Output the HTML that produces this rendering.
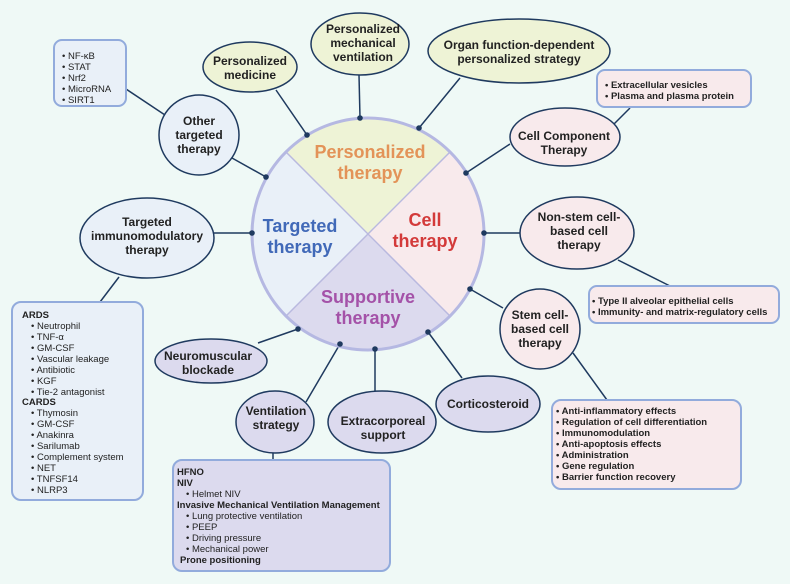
<!DOCTYPE html>
<html><head><meta charset="utf-8"><style>
html,body{margin:0;padding:0;background:#eff9f6;}
svg{display:block;font-family:"Liberation Sans",Arial,sans-serif;}
.l{font-size:12px;font-weight:bold;fill:#222;text-anchor:middle;}
.s{font-size:9.5px;fill:#222;}
.sb{font-size:9.5px;fill:#222;font-weight:bold;}
.ln{stroke:#1f3a5f;stroke-width:1.5;fill:none;}
.d{fill:#1f3a5f;}
</style></head><body>
<svg width="790" height="584" viewBox="0 0 790 584">
<rect width="790" height="584" fill="#eff9f6"/>
<!-- connectors -->
<g class="ln">
<line x1="232" y1="158" x2="266" y2="177"/>
<line x1="126" y1="89" x2="165" y2="115"/>
<line x1="276" y1="90" x2="307" y2="135"/>
<line x1="359" y1="75" x2="360" y2="118"/>
<line x1="460" y1="78" x2="419" y2="128"/>
<line x1="510" y1="144" x2="466" y2="173"/>
<line x1="630" y1="108" x2="614" y2="124"/>
<line x1="520" y1="233" x2="484" y2="233"/>
<line x1="618" y1="260" x2="670" y2="286"/>
<line x1="503" y1="308" x2="470" y2="289"/>
<line x1="573" y1="353" x2="607" y2="400"/>
<line x1="462" y1="378" x2="428" y2="332"/>
<line x1="375" y1="391" x2="375" y2="349"/>
<line x1="306" y1="402" x2="340" y2="344"/>
<line x1="273" y1="452" x2="273" y2="461"/>
<line x1="258" y1="343" x2="298" y2="329"/>
<line x1="214" y1="233" x2="252" y2="233"/>
<line x1="119" y1="277" x2="100" y2="302"/>
</g>
<!-- central pie -->
<path d="M368,234 L286,152 A116,116 0 0 1 450,152 Z" fill="#eef3d6"/>
<path d="M368,234 L450,152 A116,116 0 0 1 450,316 Z" fill="#f8eaec"/>
<path d="M368,234 L450,316 A116,116 0 0 1 286,316 Z" fill="#dcdaee"/>
<path d="M368,234 L286,316 A116,116 0 0 1 286,152 Z" fill="#e9f0f8"/>
<g stroke="#b9b9df" stroke-width="1.5">
<line x1="286" y1="152" x2="450" y2="316"/><line x1="450" y1="152" x2="286" y2="316"/></g>
<circle cx="368" cy="234" r="116" fill="none" stroke="#b5b8e2" stroke-width="3"/>
<g font-weight="bold" font-size="18" text-anchor="middle">
<text x="370" y="158" fill="#e39358">Personalized</text><text x="370" y="179" fill="#e39358">therapy</text>
<text x="300" y="232" fill="#4169b8">Targeted</text><text x="300" y="253" fill="#4169b8">therapy</text>
<text x="425" y="226" fill="#d33a3a">Cell</text><text x="425" y="247" fill="#d33a3a">therapy</text>
<text x="368" y="303" fill="#a452a8">Supportive</text><text x="368" y="324" fill="#a452a8">therapy</text>
</g>
<!-- dots -->
<g class="d">
<circle cx="266" cy="177" r="2.8"/><circle cx="307" cy="135" r="2.8"/><circle cx="360" cy="118" r="2.8"/>
<circle cx="419" cy="128" r="2.8"/><circle cx="466" cy="173" r="2.8"/><circle cx="484" cy="233" r="2.8"/>
<circle cx="470" cy="289" r="2.8"/><circle cx="428" cy="332" r="2.8"/><circle cx="375" cy="349" r="2.8"/>
<circle cx="340" cy="344" r="2.8"/><circle cx="298" cy="329" r="2.8"/><circle cx="252" cy="233" r="2.8"/>
</g>
<!-- nodes -->
<g stroke="#1f3a5f" stroke-width="1.5">
<ellipse cx="199" cy="135" rx="40" ry="40" fill="#e9f0f8"/>
<ellipse cx="250" cy="67" rx="47" ry="25" fill="#eef3d6"/>
<ellipse cx="360" cy="44" rx="49" ry="31" fill="#eef3d6"/>
<ellipse cx="519" cy="51" rx="91" ry="32" fill="#eef3d6"/>
<ellipse cx="565" cy="137" rx="55" ry="29" fill="#f8eaec"/>
<ellipse cx="577" cy="233" rx="57" ry="36" fill="#f8eaec"/>
<ellipse cx="540" cy="329" rx="40" ry="40" fill="#f8eaec"/>
<ellipse cx="488" cy="404" rx="52" ry="28" fill="#dcdaee"/>
<ellipse cx="382" cy="422" rx="54" ry="31" fill="#dcdaee"/>
<ellipse cx="275" cy="422" rx="39" ry="31" fill="#dcdaee"/>
<ellipse cx="211" cy="361" rx="56" ry="22" fill="#dcdaee"/>
<ellipse cx="147" cy="238" rx="67" ry="40" fill="#e9f0f8"/>
</g>
<g class="l">
<text x="199" y="125">Other</text><text x="199" y="139">targeted</text><text x="199" y="153">therapy</text>
<text x="250" y="65">Personalized</text><text x="250" y="79">medicine</text>
<text x="363" y="33">Personalized</text><text x="363" y="47">mechanical</text><text x="363" y="61">ventilation</text>
<text x="519" y="49">Organ function-dependent</text><text x="519" y="63">personalized strategy</text>
<text x="564" y="140">Cell Component</text><text x="564" y="154">Therapy</text>
<text x="579" y="221">Non-stem cell-</text><text x="579" y="235">based cell</text><text x="579" y="249">therapy</text>
<text x="540" y="319">Stem cell-</text><text x="540" y="333">based cell</text><text x="540" y="347">therapy</text>
<text x="488" y="408">Corticosteroid</text>
<text x="383" y="425">Extracorporeal</text><text x="383" y="439">support</text>
<text x="276" y="415">Ventilation</text><text x="276" y="429">strategy</text>
<text x="208" y="360">Neuromuscular</text><text x="208" y="374">blockade</text>
<text x="147" y="226">Targeted</text><text x="147" y="240">immunomodulatory</text><text x="147" y="254">therapy</text>
</g>
<!-- boxes -->
<g stroke="#92abdc" stroke-width="2">
<rect x="54" y="40" width="72" height="66" rx="8" fill="#e9f0f8"/>
<rect x="597" y="70" width="154" height="37" rx="8" fill="#f8eaec"/>
<rect x="589" y="286" width="190" height="37" rx="8" fill="#f8eaec"/>
<rect x="552" y="400" width="189" height="89" rx="9" fill="#f8eaec"/>
<rect x="173" y="460" width="217" height="111" rx="9" fill="#dcdaee"/>
<rect x="12" y="302" width="131" height="198" rx="9" fill="#e9f0f8"/>
</g>
<g class="s">
<text x="62" y="59">•  NF-κB</text><text x="62" y="70">•  STAT</text><text x="62" y="81">•  Nrf2</text><text x="62" y="92">•  MicroRNA</text><text x="62" y="103">•  SIRT1</text>
</g>
<g class="sb">
<text x="605" y="88">•  Extracellular vesicles</text><text x="605" y="99">•  Plasma and  plasma protein</text>
<text x="592" y="304">•  Type II alveolar epithelial cells</text><text x="592" y="315">•  Immunity- and matrix-regulatory cells</text>
<text x="556" y="414">•  Anti-inflammatory effects</text><text x="556" y="425">•  Regulation of cell differentiation</text>
<text x="556" y="436">•  Immunomodulation</text><text x="556" y="447">•  Anti-apoptosis effects</text>
<text x="556" y="458">•  Administration</text><text x="556" y="469">•  Gene regulation</text><text x="556" y="480">•  Barrier function recovery</text>
<text x="177" y="475">HFNO</text><text x="177" y="486">NIV</text>
<text x="177" y="508">Invasive Mechanical Ventilation Management</text>
<text x="180" y="563">Prone positioning</text>
<text x="22" y="318">ARDS</text><text x="22" y="405">CARDS</text>
</g>
<g class="s">
<text x="186" y="497">•  Helmet NIV</text>
<text x="186" y="519">•  Lung protective ventilation</text><text x="186" y="530">•  PEEP</text>
<text x="186" y="541">•  Driving pressure</text><text x="186" y="552">•  Mechanical power</text>
<text x="31" y="329">•  Neutrophil</text><text x="31" y="340">•  TNF-α</text><text x="31" y="351">•  GM-CSF</text>
<text x="31" y="362">•  Vascular leakage</text><text x="31" y="373">•  Antibiotic</text><text x="31" y="384">•  KGF</text>
<text x="31" y="395">•  Tie-2 antagonist</text>
<text x="31" y="416">•  Thymosin</text><text x="31" y="427">•  GM-CSF</text><text x="31" y="438">•  Anakinra</text>
<text x="31" y="449">•  Sarilumab</text><text x="31" y="460">•  Complement system</text><text x="31" y="471">•  NET</text>
<text x="31" y="482">•  TNFSF14</text><text x="31" y="493">•  NLRP3</text>
</g>
</svg>
</body></html>
